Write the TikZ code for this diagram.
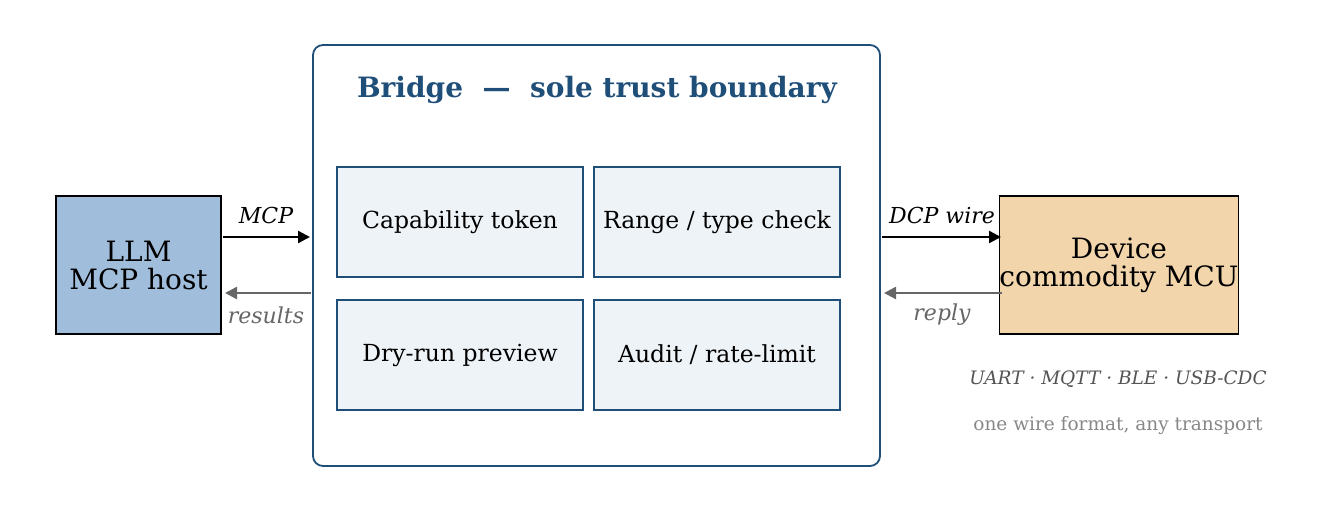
\documentclass[tikz,border=0pt]{standalone}
\usepackage{fontspec}
\setmainfont{DejaVu Serif}
\usepackage{xcolor}
\usetikzlibrary{arrows.meta}
\definecolor{bridgeblue}{HTML}{1F4E79}
\definecolor{hostblue}{HTML}{A0BEDC}
\definecolor{devorange}{HTML}{F2D5AB}
\definecolor{checkfill}{HTML}{EEF3F7}
\tikzset{
  outer/.style={draw, line width=1.6pt, minimum width=165pt, minimum height=138pt, font=\fontsize{28}{32}\selectfont, align=center, inner sep=0pt},
  check/.style={draw=bridgeblue, line width=1.6pt, fill=checkfill, minimum width=246pt, minimum height=110pt, font=\fontsize{23.5}{27}\selectfont, inner sep=0pt},
  fwd/.style={-{Triangle[length=12pt,width=12pt]}, line width=2.4pt},
  back/.style={-{Triangle[length=12pt,width=12pt]}, line width=2.4pt, draw=black!60},
  lbl/.style={font=\fontsize{22}{26}\selectfont\itshape}
}
\begin{document}
\begin{tikzpicture}[x=1pt,y=-1pt]
        \useasboundingbox (0,0) rectangle (1322,512);

        % Bridge frame
        \node[draw=bridgeblue, line width=1.8pt, rounded corners=10pt, minimum width=567pt, minimum height=421pt, inner sep=0pt] (bridge) at (596.5,255.5) {};
        \node[text=bridgeblue, font=\fontsize{28}{32}\selectfont\bfseries] (title) at (597,90) {Bridge\ \ —\ \ sole trust boundary};

        % Checks inside the bridge
        \node[check] (cap) at (460,222) {Capability token};
        \node[check] (range) at (717,222) {Range / type check};
        \node[check] (dry) at (460,355) {Dry-run preview};
        \node[check] (audit) at (717,355) {Audit / rate-limit};

        % Host and device
        \node[outer, fill=hostblue] (host) at (138.5,265) {LLM\\[-4pt]MCP host};
        \node[outer, fill=devorange, minimum width=230pt] (dev) at (1119,265) {Device\\[-4pt]commodity MCU};

        % Arrow end points
        \coordinate (hostout) at (223,237);
        \coordinate (brin) at (310,237);
        \coordinate (brback) at (311,293);
        \coordinate (hostin) at (225,293);
        \coordinate (brout) at (882,237);
        \coordinate (devin) at (1001,237);
        \coordinate (devout) at (1002,293);
        \coordinate (brreply) at (884,293);

        \draw[fwd] (hostout) -- (brin);
        \draw[back] (brback) -- (hostin);
        \draw[fwd] (brout) -- (devin);
        \draw[back] (devout) -- (brreply);

        % Arrow labels
        \node[lbl] (mcp) at (266,215) {MCP};
        \node[lbl, text=black!60] (res) at (266,315) {results};
        \node[lbl] (dcp) at (942,215) {DCP wire};
        \node[lbl, text=black!60] (rep) at (942,315) {reply};

        % Transport notes
        \node[text=black!67, font=\fontsize{18.5}{22}\selectfont\itshape] (uart) at (1118,379) {UART · MQTT · BLE · USB-CDC};
        \node[text=black!47, font=\fontsize{18.5}{22}\selectfont] (wire) at (1118,426) {one wire format, any transport};
\end{tikzpicture}
\end{document}
